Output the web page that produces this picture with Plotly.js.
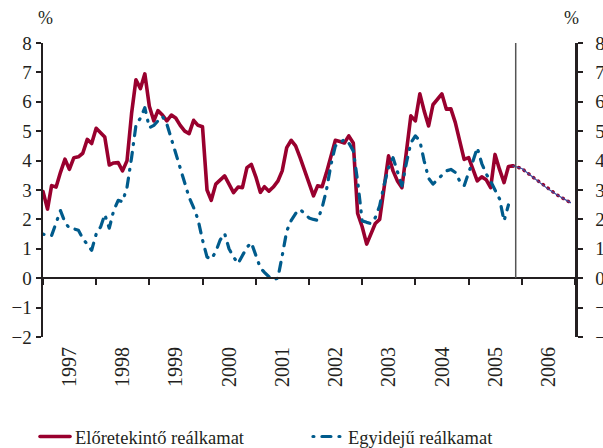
<!DOCTYPE html>
<html><head><meta charset="utf-8">
<script src="https://cdn.plot.ly/plotly-3.0.1.min.js"></script>
<style>html,body{margin:0;padding:0;background:#fff;} #chart{width:603px;height:448px;}</style>
</head><body><div id="chart"></div>
<script>
// Monthly series, starting January 1997
const startYear = 1997;
const forwardReal = [2.95,2.35,3.15,3.1,3.6,4.05,3.7,4.1,4.13,4.25,4.72,4.58,
  5.1,4.95,4.8,3.85,3.92,3.93,3.65,4.0,5.6,6.75,6.45,6.95,
  5.85,5.35,5.7,5.55,5.35,5.55,5.45,5.2,5.0,4.92,5.37,5.2,
  5.15,3.0,2.65,3.2,3.35,3.48,3.2,2.91,3.1,3.08,3.76,3.87,
  3.45,2.92,3.11,2.96,3.1,3.3,3.65,4.44,4.69,4.5,4.1,3.65,
  3.2,2.8,3.14,3.11,3.59,4.1,4.69,4.65,4.6,4.84,4.6,2.2,
  1.75,1.16,1.5,1.86,2.0,3.0,4.16,3.65,3.3,3.08,4.3,5.52,
  5.35,6.27,5.7,5.18,5.9,6.1,6.27,5.75,5.76,5.3,4.6,4.04,
  4.1,3.7,3.31,3.45,3.35,3.08,4.21,3.7,3.25,3.8,3.82];
const contempReal = [1.5,1.45,1.45,1.9,2.3,1.9,1.7,1.68,1.63,1.35,1.15,0.95,
  1.5,1.75,2.17,1.7,2.3,2.65,2.6,3.1,4.1,5.2,5.45,5.8,
  5.12,5.2,5.35,5.5,5.25,4.75,4.3,3.8,3.3,2.75,2.4,2.0,
  1.3,0.72,0.65,0.9,1.3,1.52,1.0,0.72,0.5,0.75,1.05,1.21,
  0.8,0.35,0.2,0.05,-0.05,0.0,0.76,1.6,1.97,2.2,2.34,2.2,
  2.05,2.0,1.97,2.4,3.0,3.87,4.5,4.6,4.72,4.6,4.33,3.3,
  1.95,1.9,1.86,2.06,2.46,3.19,3.76,4.1,3.6,3.14,3.93,4.6,
  4.84,4.67,4.0,3.4,3.2,3.35,3.53,3.65,3.7,3.6,3.3,3.14,
  3.6,4.0,4.44,3.9,3.55,3.3,3.0,2.7,1.95,2.49];
const forecastDates = ['2005-11-01','2006-01-01','2006-03-01','2006-05-01','2006-07-01','2006-09-01','2006-12-01'];
const forecastValues = [3.82,3.73,3.5,3.27,3.03,2.83,2.57];
const forecastStart = '2005-11-20';
const yTicks = [-2,-1,0,1,2,3,4,5,6,7,8];
const seriesNames = ['Előretekintő reálkamat','Egyidejű reálkamat'];
const xRange = ['1997-01-01','2007-01-01'];

function monthDates(n){
  const out=[];
  for(let i=0;i<n;i++){
    const y=startYear+Math.floor(i/12), m=i%12+1;
    out.push(y+'-'+String(m).padStart(2,'0')+'-01');
  }
  return out;
}

const RED='#99002e', BLUE='#005b8c', INK='#231f20';
const FONT='Liberation Serif, Times New Roman, serif';

const traces = [
  {x: monthDates(forwardReal.length), y: forwardReal, type:'scatter', mode:'lines',
   name: seriesNames[0], line:{color:RED, width:3.6}, legend:'legend'},
  {x: monthDates(contempReal.length), y: contempReal, type:'scatter', mode:'lines',
   name: seriesNames[1], line:{color:BLUE, width:3.2, dash:'1px,8px,9px,8px'}, legend:'legend2'},
  {x: forecastDates, y: forecastValues, type:'scatter', mode:'lines', xaxis:'x2', yaxis:'y',
   showlegend:false, hoverinfo:'skip', line:{color:'#3a4fa0', width:1.2}},
  {x: forecastDates, y: forecastValues, type:'scatter', mode:'lines', xaxis:'x', yaxis:'y2',
   showlegend:false, hoverinfo:'skip', line:{color:RED, width:3.5, dash:'0.5px,5.5px'}}
];

const tickFont = {family:FONT, size:19, color:INK};
const yBase = {range:[-2,8], tickmode:'array', tickvals:yTicks, ticks:'outside', ticklen:5, tickwidth:2,
  tickcolor:INK, showline:true, linewidth:2.5, linecolor:INK, showgrid:false, zeroline:false,
  tickfont:tickFont, fixedrange:true, automargin:false};

const layout = {
  width:603, height:448,
  margin:{l:43, r:28, t:43, b:111, autoexpand:false},
  paper_bgcolor:'#fff', plot_bgcolor:'#fff',
  font:{family:FONT, color:INK},
  xaxis:{type:'date', range:xRange, tick0:'1997-01-01', dtick:'M12', ticklabelmode:'period',
    tickformat:'%Y', tickangle:-90, ticks:'', showline:false, showgrid:false, zeroline:false,
    tickfont:{family:FONT, size:20, color:INK}, fixedrange:true, automargin:false, ticklabelstandoff:5},
  xaxis2:{type:'date', range:xRange, overlaying:'x', anchor:'free', position:0.2, side:'bottom',
    tick0:'1997-01-01', dtick:'M12', ticks:'outside', ticklen:6, tickwidth:2, tickcolor:INK,
    showticklabels:false, showline:true, linewidth:2.2, linecolor:INK, showgrid:false, zeroline:false, fixedrange:true},
  yaxis: Object.assign({}, yBase, {side:'left'}),
  yaxis2: Object.assign({}, yBase, {overlaying:'y', side:'right', anchor:'x', ticklabelstandoff:9}),
  shapes:[{type:'line', xref:'x', yref:'y', x0:forecastStart, x1:forecastStart, y0:0, y1:8,
    line:{color:'#555', width:1.5}}],
  annotations:[
    {text:'%', xref:'paper', yref:'paper', x:0.004, y:1.085, xanchor:'center', yanchor:'middle', showarrow:false, font:{family:FONT,size:18,color:INK}},
    {text:'%', xref:'paper', yref:'paper', x:0.994, y:1.085, xanchor:'center', yanchor:'middle', showarrow:false, font:{family:FONT,size:18,color:INK}}
  ],
  legend:{x:-0.015, y:-0.34, xanchor:'left', yanchor:'middle', orientation:'h',
    font:{family:FONT, size:18.5, color:INK}, bgcolor:'rgba(0,0,0,0)'},
  legend2:{x:0.498, y:-0.34, xanchor:'left', yanchor:'middle', orientation:'h',
    font:{family:FONT, size:18.5, color:INK}, bgcolor:'rgba(0,0,0,0)'},
  showlegend:true
};

function roundCaps(){
  document.querySelectorAll('path.js-line').forEach(p=>{
    p.style.strokeLinecap='round'; p.style.strokeLinejoin='round';
  });
}
Plotly.newPlot('chart', traces, layout, {displayModeBar:false, staticPlot:true}).then(roundCaps);
</script>
</body></html>
